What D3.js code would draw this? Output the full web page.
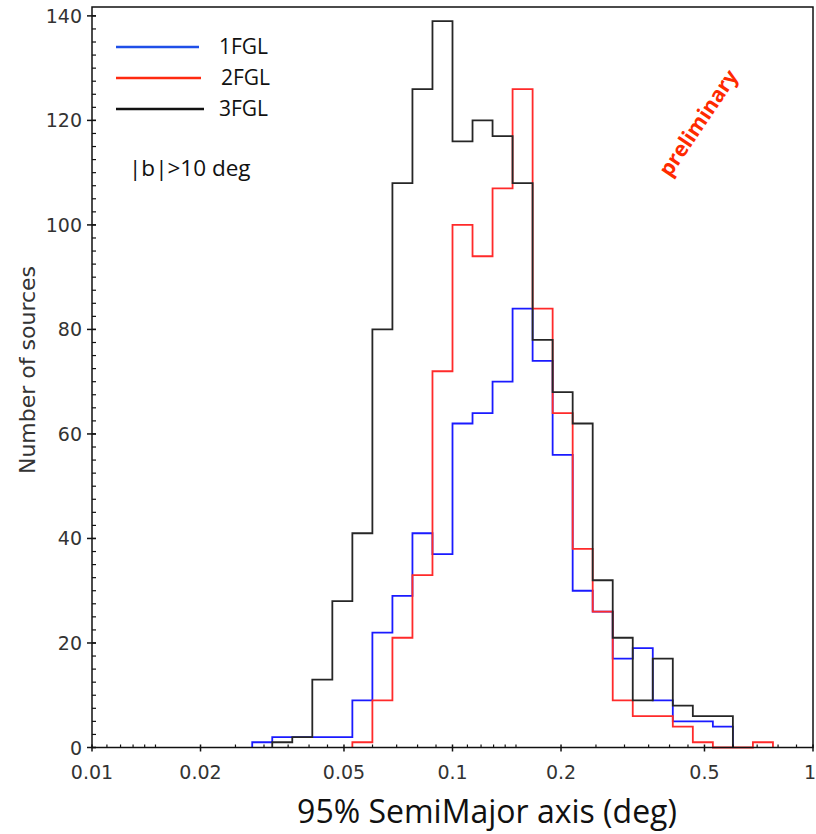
<!DOCTYPE html>
<html lang="en">
<head>
  <meta charset="UTF-8">
  <title>Semi-major axis histogram</title>
  <style>
    body { margin: 0; background: white; }
  </style>
</head>
<body>
  <svg id="svg" width="816" height="834"></svg>
  <script src="https://d3js.org/d3.v7.min.js"></script>
  <script>
    // log bins: 18 per decade, starting at 0.01 deg; counts start at firstBin
    const binsPerDecade = 18
    const firstBin = 8
    const counts1FGL = [1, 2, 2, 2, 2, 9, 22, 29, 41, 37, 62, 64, 70, 84, 74, 56, 30, 26, 17, 19, 9, 5, 5, 4, 0, 0]
    const counts2FGL = [0, 0, 0, 0, 0, 1, 9, 21, 33, 72, 100, 94, 107, 126, 84, 64, 38, 26, 9, 6, 6, 4, 1, 0, 0, 1]
    const counts3FGL = [0, 1, 2, 13, 28, 41, 80, 108, 126, 139, 116, 120, 117, 108, 78, 68, 62, 32, 21, 9, 17, 8, 6, 6, 0, 0]

    const seriesNames = ['1FGL', '2FGL', '3FGL']
    const seriesColors = ['#1a1aff', '#ff2a2a', '#262626']
    const xTickLabels = [0.01, 0.02, 0.05, 0.1, 0.2, 0.5, 1]
    const xMinorTicks = [0.011, 0.012, 0.013, 0.014, 0.015, 0.025, 0.03, 0.035, 0.04, 0.045,
      0.06, 0.07, 0.08, 0.09, 0.11, 0.12, 0.13, 0.14, 0.15, 0.25, 0.3, 0.35, 0.4, 0.45,
      0.6, 0.7, 0.8, 0.9]
    const yTickLabels = [0, 20, 40, 60, 80, 100, 120, 140]

    const plotLeft = 92, plotRight = 813, plotTop = 7, plotBottom = 747.5

    const svg = d3.select('#svg')

    const xScale = d3.scaleLog()
      .domain([0.01, 1])
      .range([plotLeft, plotRight])
    const yScale = d3.scaleLinear()
      .domain([0, 141.7])
      .range([plotBottom, plotTop])

    const edge = k => 0.01 * Math.pow(10, k / binsPerDecade)

    // build step points, trimmed to the non-zero range
    function stepPoints(counts) {
      let a = counts.findIndex(c => c > 0)
      let b = counts.length - 1
      while (counts[b] === 0) b--
      const pts = [[edge(firstBin + a), 0]]
      for (let i = a; i <= b; i++) pts.push([edge(firstBin + i), counts[i]])
      pts.push([edge(firstBin + b + 1), 0])
      return pts
    }

    const line = d3.line()
      .x(d => xScale(d[0]))
      .y(d => yScale(d[1]))
      .curve(d3.curveStepAfter)

    const allCounts = [counts1FGL, counts2FGL, counts3FGL]
    svg.append('g')
      .selectAll('path')
      .data(allCounts)
      .enter()
      .append('path')
      .attr('d', d => line(stepPoints(d)))
      .attr('fill', 'none')
      .attr('stroke', (d, i) => seriesColors[i])
      .attr('stroke-width', 1.8)

    // frame
    svg.append('rect')
      .attr('x', plotLeft)
      .attr('y', plotTop)
      .attr('width', plotRight - plotLeft)
      .attr('height', plotBottom - plotTop)
      .attr('fill', 'none')
      .attr('stroke', '#111')
      .attr('stroke-width', 1.5)

    // x axis
    const xAxis = svg.append('g')
    xAxis.selectAll('.minor')
      .data(xMinorTicks)
      .enter()
      .append('line')
      .attr('x1', d => xScale(d)).attr('x2', d => xScale(d))
      .attr('y1', plotBottom - 3).attr('y2', plotBottom)
      .attr('stroke', '#111').attr('stroke-width', 1.2)
    xAxis.selectAll('.major')
      .data(xTickLabels)
      .enter()
      .append('line')
      .attr('x1', d => xScale(d)).attr('x2', d => xScale(d))
      .attr('y1', plotBottom - 3).attr('y2', plotBottom + 4)
      .attr('stroke', '#111').attr('stroke-width', 1.5)
    xAxis.selectAll('text')
      .data(xTickLabels)
      .enter()
      .append('text')
      .text(d => d)
      .attr('x', d => d === 1 ? 816 : xScale(d))
      .attr('y', plotBottom + 31)
      .attr('text-anchor', d => d === 1 ? 'end' : 'middle')
      .style('font-family', 'DejaVu Sans')
      .style('font-size', '19px')
      .style('fill', '#333')

    // y axis
    const yAxis = svg.append('g')
    const yMinor = d3.range(0, 141, 2.5)
    yAxis.selectAll('.minor')
      .data(yMinor)
      .enter()
      .append('line')
      .attr('x1', plotLeft).attr('x2', plotLeft + 4)
      .attr('y1', d => yScale(d)).attr('y2', d => yScale(d))
      .attr('stroke', '#111').attr('stroke-width', 1.2)
    yAxis.selectAll('.major')
      .data(yTickLabels)
      .enter()
      .append('line')
      .attr('x1', plotLeft - 5).attr('x2', plotLeft + 4)
      .attr('y1', d => yScale(d)).attr('y2', d => yScale(d))
      .attr('stroke', '#111').attr('stroke-width', 1.5)
    yAxis.selectAll('text')
      .data(yTickLabels)
      .enter()
      .append('text')
      .text(d => d)
      .attr('x', plotLeft - 10)
      .attr('y', d => yScale(d) + 7)
      .attr('text-anchor', 'end')
      .style('font-family', 'DejaVu Sans')
      .style('font-size', '19px')
      .style('fill', '#333')

    // axis titles
    svg.append('text')
      .text('95% SemiMajor axis (deg)')
      .attr('x', 487)
      .attr('y', 823)
      .attr('text-anchor', 'middle')
      .style('font-family', 'Open Sans')
      .style('font-size', '32px')
      .style('fill', '#111')
    svg.append('text')
      .text('Number of sources')
      .attr('transform', 'translate(35, 370) rotate(-90)')
      .attr('text-anchor', 'middle')
      .style('font-family', 'DejaVu Sans')
      .style('font-size', '22px')
      .style('fill', '#333')

    // legend
    const legendY = [47, 78, 109]
    const legendLen = [83, 85, 88]
    const legendTextX = [219, 221, 219]
    const legend = svg.append('g')
    legend.selectAll('line')
      .data(seriesNames)
      .enter()
      .append('line')
      .attr('x1', 116)
      .attr('x2', (d, i) => 116 + legendLen[i])
      .attr('y1', (d, i) => legendY[i])
      .attr('y2', (d, i) => legendY[i])
      .attr('stroke', (d, i) => ['#1f4fe8', '#ff2a10', '#111'][i])
      .attr('stroke-width', 2.5)
    legend.selectAll('text')
      .data(seriesNames)
      .enter()
      .append('text')
      .text(d => d)
      .attr('x', (d, i) => legendTextX[i])
      .attr('y', (d, i) => legendY[i] + 7)
      .style('font-family', 'Open Sans')
      .style('font-size', '21px')
      .style('fill', '#111')

    svg.append('text')
      .text('|b|>10 deg')
      .attr('x', 129)
      .attr('y', 176)
      .style('font-family', 'Open Sans')
      .style('font-size', '22.5px')
      .style('fill', '#111')

    svg.append('text')
      .text('preliminary')
      .attr('transform', 'translate(670, 178) rotate(-56)')
      .style('font-family', 'Open Sans')
      .style('font-weight', 'bold')
      .style('font-size', '21px')
      .style('fill', '#ff2a00')
  </script>
</body>
</html>
